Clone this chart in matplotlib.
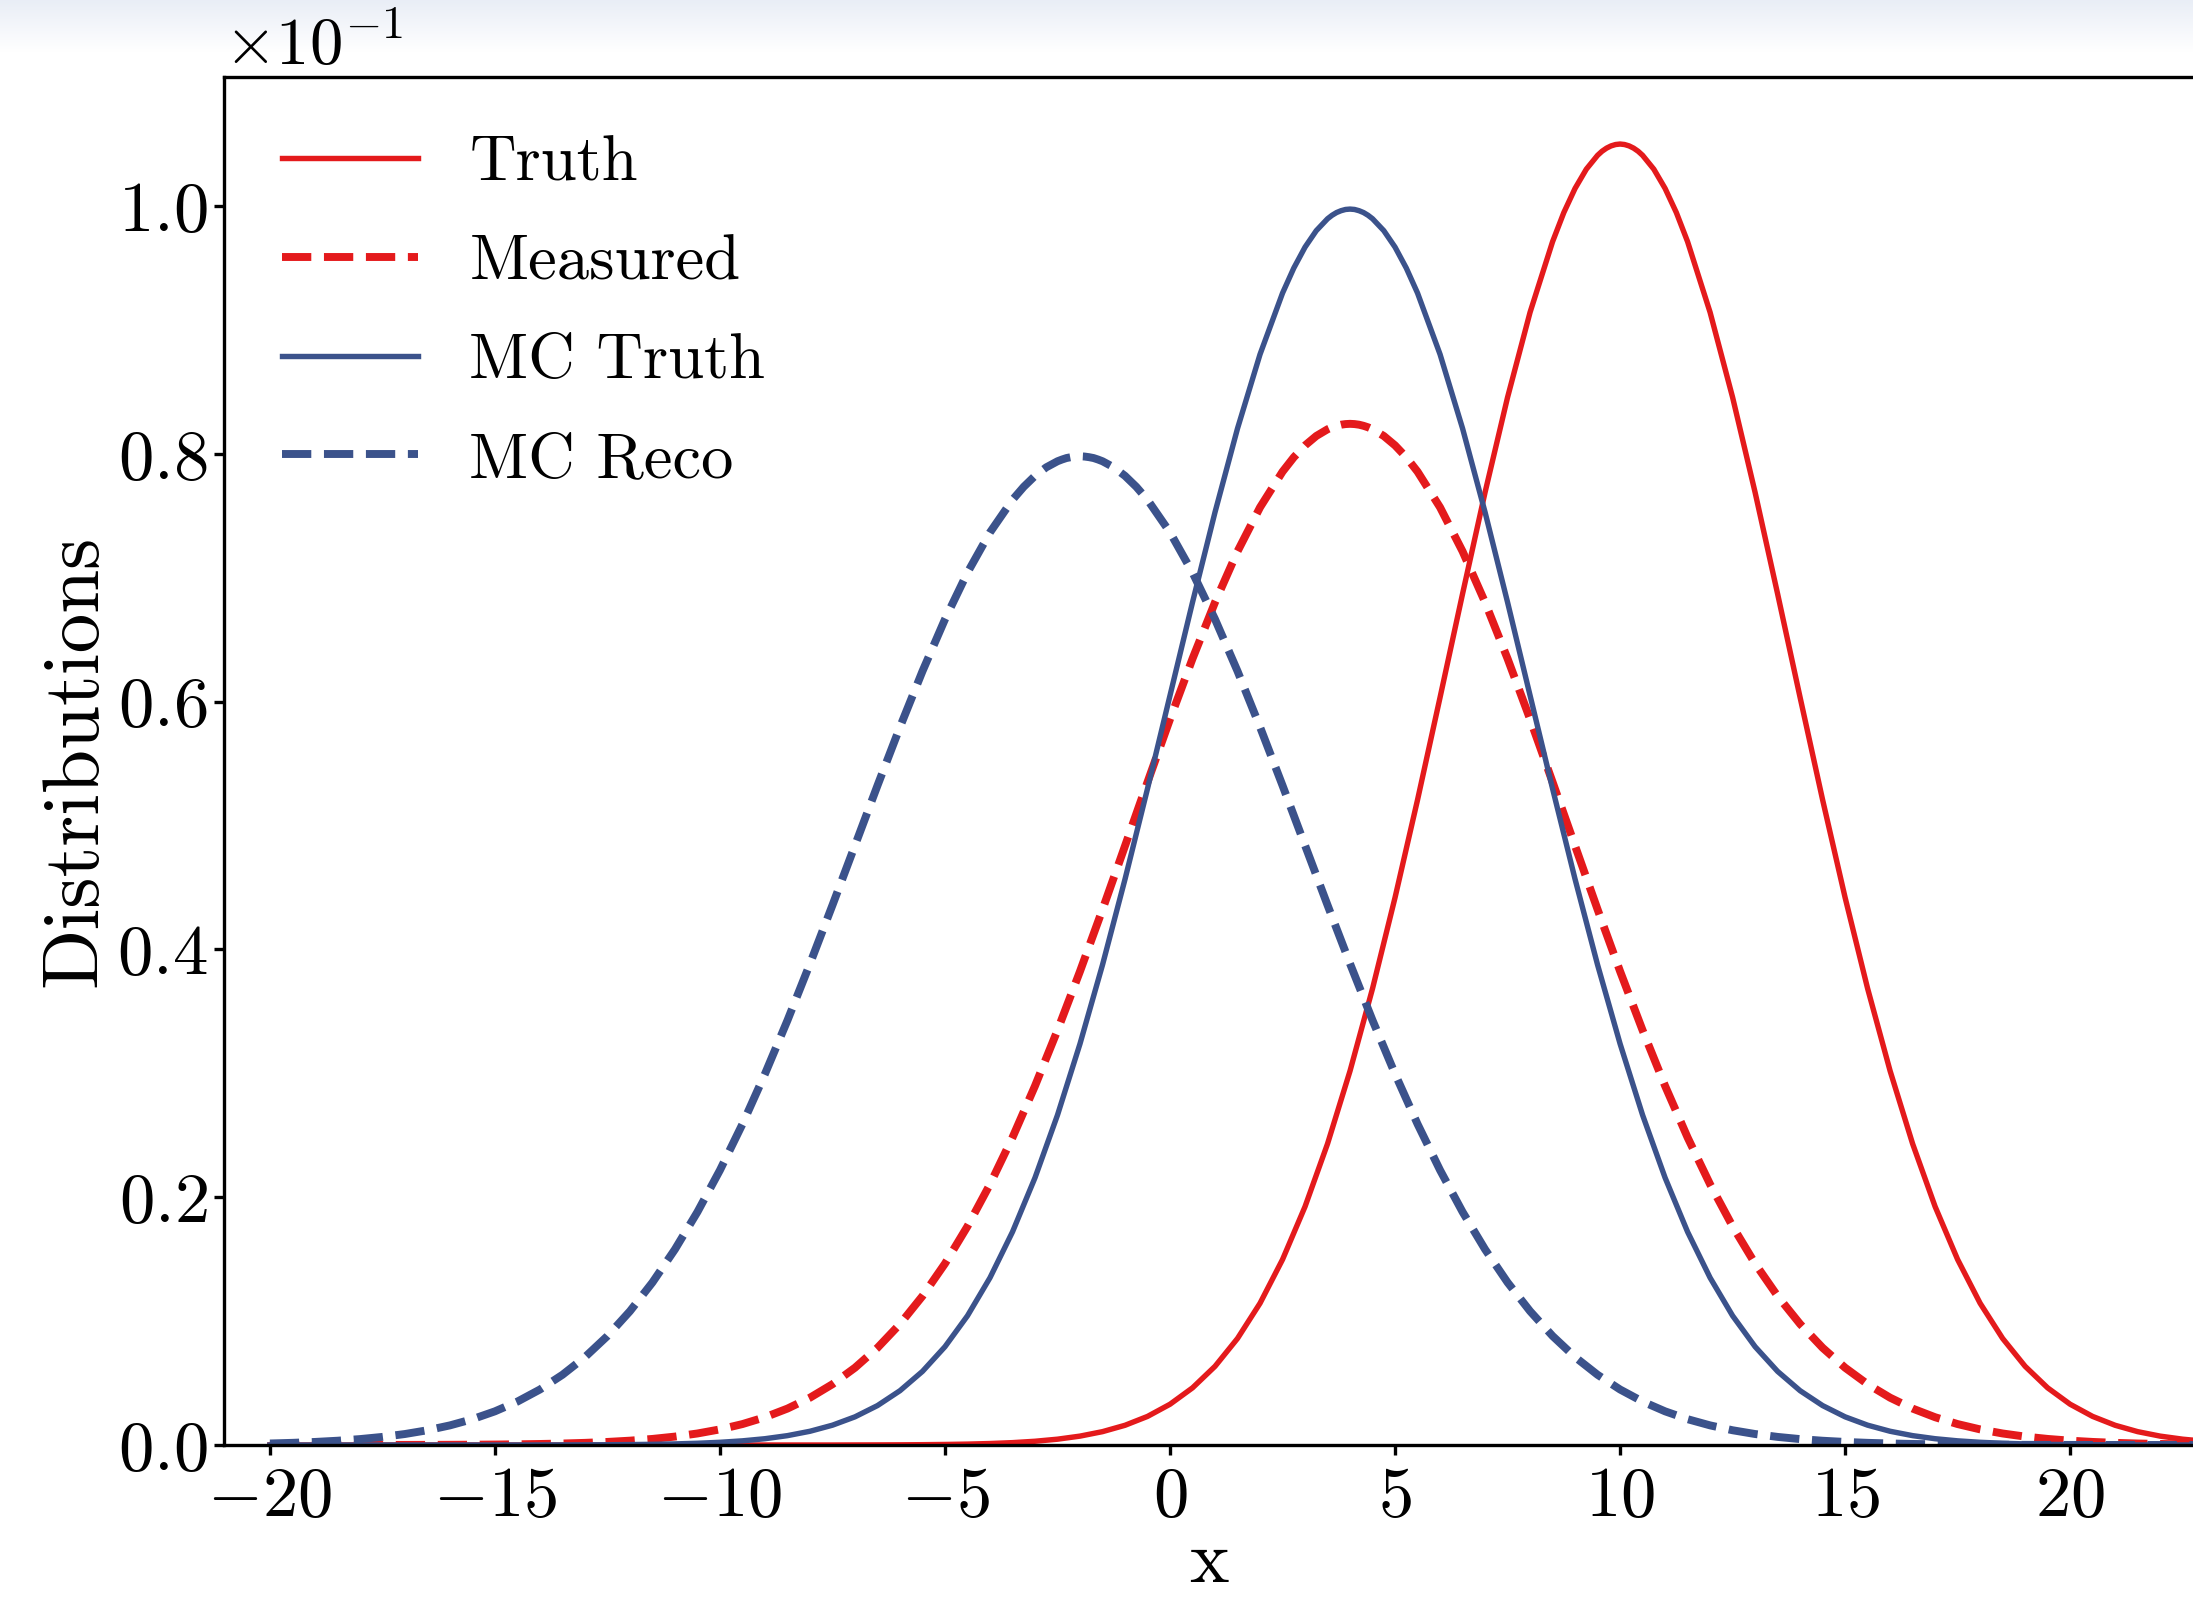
import numpy as np
import matplotlib
matplotlib.use("Agg")
import matplotlib.pyplot as plt
from matplotlib.ticker import MultipleLocator

plt.rcParams['font.family'] = 'serif'
plt.rcParams['font.serif'] = ['cmr10']
plt.rcParams['mathtext.fontset'] = 'cm'
plt.rcParams['axes.formatter.use_mathtext'] = True
plt.rcParams['axes.unicode_minus'] = True

# sample positions, -20 ... 25 every 0.5
x = np.arange(-20, 25.5, 0.5)

truth = [0.0] * 26 + [
    0.0000047, 0.0000084, 0.0000148, 0.0000256, 0.0000435, 0.0000724,
    0.0001185, 0.0001908, 0.000302, 0.000469, 0.000717, 0.001078,
    0.001591, 0.002307, 0.003290, 0.004613, 0.00635, 0.00860,
    0.01144, 0.01497, 0.01924, 0.02431, 0.03019, 0.03684,
    0.04418, 0.05207, 0.06033, 0.06869, 0.07688, 0.08455,
    0.09141, 0.09711, 0.10141, 0.10408, 0.10499, 0.10408,
    0.10141, 0.09711, 0.09141, 0.08455, 0.07688, 0.06869,
    0.06033, 0.05207, 0.04418, 0.03684, 0.03019, 0.02431,
    0.01924, 0.01497, 0.01144, 0.00860, 0.00635, 0.004613,
    0.003290, 0.002307, 0.001591, 0.001078, 0.000717, 0.000469,
    0.000302, 0.0001908, 0.0001185, 0.0000724, 0.0000435]

measured = [
    0.0000004, 0.0000006, 0.0000010, 0.0000017, 0.0000027, 0.0000043,
    0.0000068, 0.0000106, 0.0000162, 0.0000247, 0.0000373, 0.0000556,
    0.0000822, 0.0001200, 0.0001733, 0.0002477, 0.0003503, 0.0004902,
    0.0006786, 0.000930, 0.001260, 0.001689, 0.002241, 0.002940,
    0.003818, 0.004907, 0.006237, 0.007845, 0.009763, 0.01202,
    0.01464, 0.01765, 0.02104, 0.02482, 0.02898, 0.03347,
    0.03823, 0.04322, 0.04835, 0.05350, 0.05858, 0.06346,
    0.06801, 0.07212, 0.07567, 0.07855, 0.08067, 0.08197,
    0.08241, 0.08197, 0.08067, 0.07855, 0.07567, 0.07212,
    0.06801, 0.06346, 0.05858, 0.05350, 0.04835, 0.04322,
    0.03823, 0.03347, 0.02898, 0.02482, 0.02104, 0.01765,
    0.01464, 0.01202, 0.009763, 0.007845, 0.006237, 0.004907,
    0.003818, 0.002940, 0.002241, 0.001689, 0.001260, 0.000930,
    0.0006786, 0.0004902, 0.0003503, 0.0002477, 0.0001733, 0.0001200,
    0.0000822, 0.0000556, 0.0000373, 0.0000247, 0.0000162, 0.0000106,
    0.0000068]

mc_truth = [0.0] * 11 + [
    0.0000023, 0.0000040, 0.0000070, 0.0000119, 0.0000201, 0.0000335,
    0.0000547, 0.0000881, 0.0001397, 0.0002181, 0.0003352, 0.0005073,
    0.0007556, 0.001108, 0.001600, 0.002273, 0.003182, 0.004383,
    0.005942, 0.007935, 0.01043, 0.01350, 0.01720, 0.02157,
    0.02663, 0.03238, 0.03875, 0.04566, 0.05297, 0.06049,
    0.06801, 0.07528, 0.08204, 0.08802, 0.09296, 0.09667,
    0.09896, 0.09974, 0.09896, 0.09667, 0.09296, 0.08802,
    0.08204, 0.07528, 0.06801, 0.06049, 0.05297, 0.04566,
    0.03875, 0.03238, 0.02663, 0.02157, 0.01720, 0.01350,
    0.01043, 0.007935, 0.005942, 0.004383, 0.003182, 0.002273,
    0.001600, 0.001108, 0.0007556, 0.0005073, 0.0003352, 0.0002181,
    0.0001397, 0.0000881, 0.0000547, 0.0000335, 0.0000201, 0.0000119,
    0.0000070, 0.0000040, 0.0000023] + [0.0] * 5

mc_reco = [
    0.0001224, 0.0001746, 0.0002465, 0.0003445, 0.0004768, 0.0006533,
    0.0008864, 0.001190, 0.001583, 0.002084, 0.002717, 0.003506,
    0.004479, 0.005666, 0.007095, 0.008797, 0.01080, 0.01312,
    0.01579, 0.01881, 0.02218, 0.02590, 0.02995, 0.03427,
    0.03884, 0.04357, 0.04839, 0.05322, 0.05794, 0.06245,
    0.06664, 0.07041, 0.07365, 0.07628, 0.07821, 0.07939,
    0.07979, 0.07939, 0.07821, 0.07628, 0.07365, 0.07041,
    0.06664, 0.06245, 0.05794, 0.05322, 0.04839, 0.04357,
    0.03884, 0.03427, 0.02995, 0.02590, 0.02218, 0.01881,
    0.01579, 0.01312, 0.01080, 0.008797, 0.007095, 0.005666,
    0.004479, 0.003506, 0.002717, 0.002084, 0.001583, 0.001190,
    0.0008864, 0.0006533, 0.0004768, 0.0003445, 0.0002465, 0.0001746,
    0.0001224, 0.0000849, 0.0000583, 0.0000397, 0.0000268, 0.0000179,
    0.0000118, 0.0000077, 0.0000050, 0.0000032, 0.0000020, 0.0000013,
    0.0000008] + [0.0] * 6

# extra readings around each peak so the tops stay round
truth_peak_x = [8.75, 9.25, 9.6, 9.7, 9.8, 9.9, 10.1, 10.2, 10.3, 10.4, 10.75, 11.25]
truth_peak_y = [0.09946, 0.10296, 0.10441, 0.10466, 0.10484, 0.10495,
                0.10495, 0.10484, 0.10466, 0.10441, 0.10296, 0.09946]
measured_peak_x = [2.75, 3.25, 3.6, 3.7, 3.8, 3.9, 4.1, 4.2, 4.3, 4.4, 4.75, 5.25]
measured_peak_y = [0.07971, 0.08143, 0.08213, 0.08225, 0.08234, 0.08239,
                   0.08239, 0.08234, 0.08225, 0.08213, 0.08143, 0.07971]
mc_truth_peak_x = [2.75, 3.25, 3.6, 3.7, 3.8, 3.9, 4.1, 4.2, 4.3, 4.4, 4.75, 5.25]
mc_truth_peak_y = [0.09498, 0.09800, 0.09924, 0.09946, 0.09961, 0.09971,
                   0.09971, 0.09961, 0.09946, 0.09924, 0.09800, 0.09498]
mc_reco_peak_x = [-3.25, -2.75, -2.4, -2.3, -2.2, -2.1, -1.9, -1.8, -1.7, -1.6, -1.25, -0.75]
mc_reco_peak_y = [0.07733, 0.07890, 0.07953, 0.07965, 0.07972, 0.07977,
                  0.07977, 0.07972, 0.07965, 0.07953, 0.07890, 0.07733]


def merged(base, px, py):
    xx = np.concatenate([x, px])
    yy = np.concatenate([base, py])
    order = np.argsort(xx, kind='stable')
    return xx[order], yy[order]


red = '#e41a1c'
blue = '#3b528b'

fig = plt.figure(figsize=(2193 / 300, 1597 / 300), dpi=300)

# faint band across the top of the picture
band = fig.add_axes([0, 1 - 52 / 1597, 1, 52 / 1597], zorder=0)
top = np.array([0.914, 0.933, 0.965])
g = np.linspace(0, 1, 60)[:, None]
img = (top[None, :] * (1 - g) + g)[:, None, :]
band.imshow(img, aspect='auto', extent=[0, 1, 0, 1])
band.axis('off')

ax = fig.add_axes([224 / 2193, 152 / 1597, 1 - 224 / 2193, 1368 / 1597], zorder=1)

ax.plot(*merged(truth, truth_peak_x, truth_peak_y), color=red, lw=1.3, label='Truth')
ax.plot(*merged(measured, measured_peak_x, measured_peak_y), color=red, lw=1.9,
        ls='--', label='Measured')
ax.plot(*merged(mc_truth, mc_truth_peak_x, mc_truth_peak_y), color=blue, lw=1.3,
        label='MC Truth')
ax.plot(*merged(mc_reco, mc_reco_peak_x, mc_reco_peak_y), color=blue, lw=1.9,
        ls='--', label='MC Reco')

ax.set_xlim(-21.02, 22.73)
ax.set_ylim(0, 0.1104)
ax.spines['right'].set_visible(False)
ax.xaxis.set_major_locator(MultipleLocator(5))
ax.yaxis.set_major_locator(MultipleLocator(0.02))
ax.ticklabel_format(axis='y', style='sci', scilimits=(0, 0))
ax.tick_params(labelsize=17, length=2.5)
ax.tick_params(axis='y', pad=1.5)
ax.tick_params(axis='x', pad=2.5)
ax.yaxis.get_offset_text().set_fontsize(16)

ax.set_xlabel('x', fontsize=18, labelpad=0)
ax.set_ylabel('Distributions', fontsize=19, labelpad=1)

ax.legend(loc='upper left', frameon=False, fontsize=15.5, handlelength=2.1,
          handletextpad=0.8, labelspacing=0.63)

fig.savefig('out.png', dpi=300)
